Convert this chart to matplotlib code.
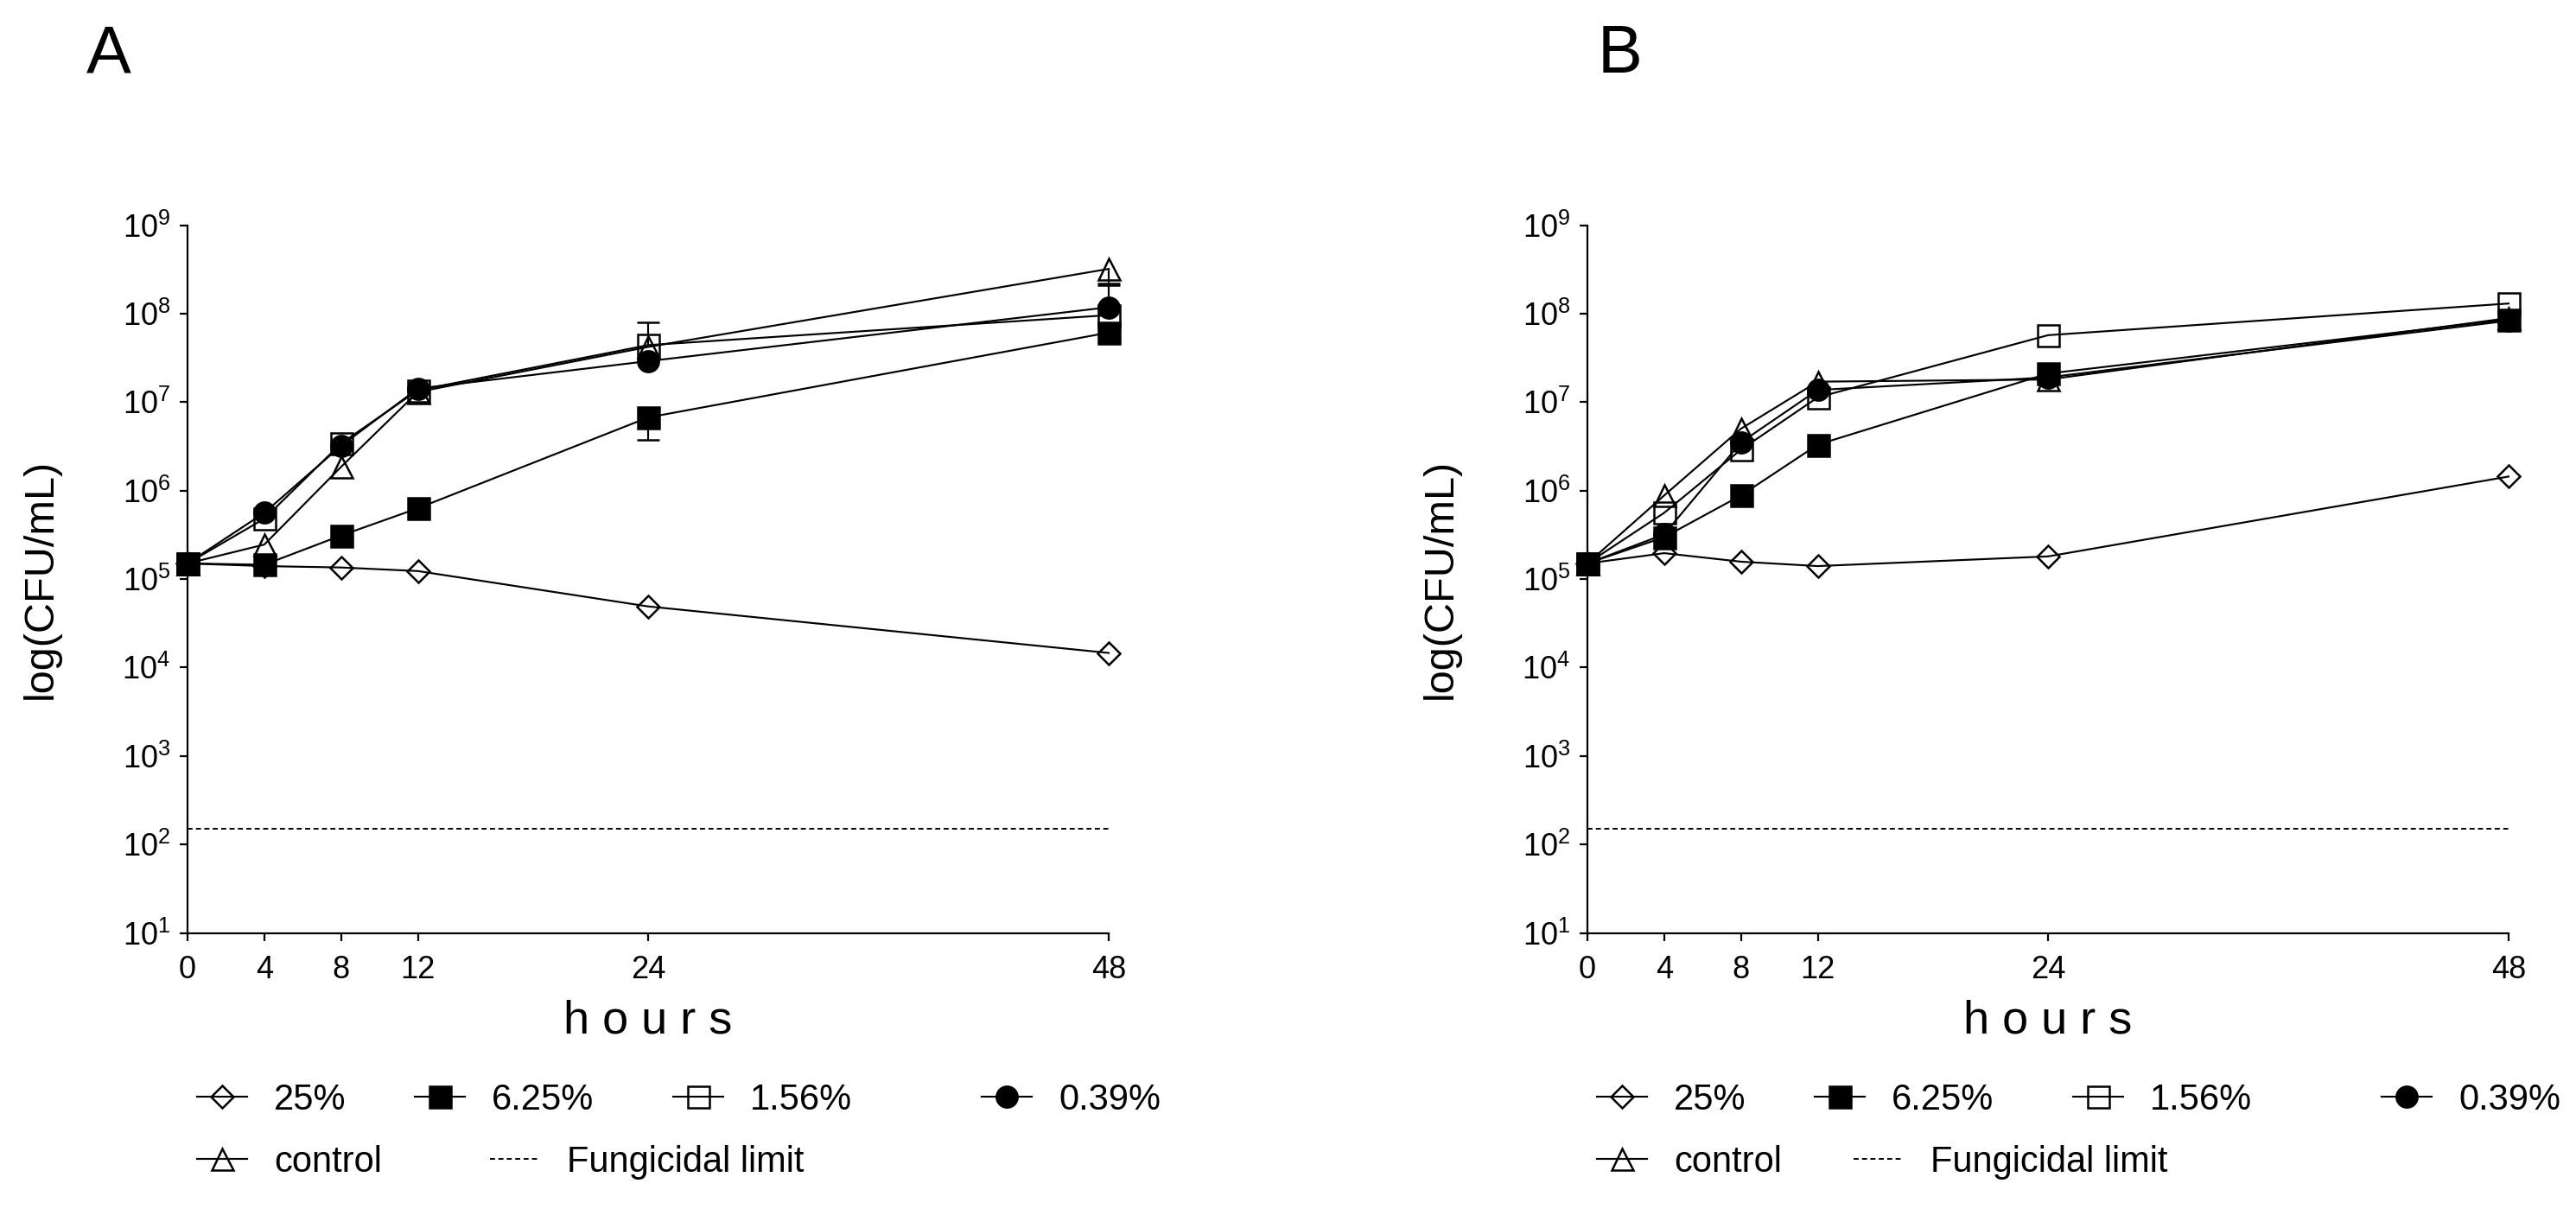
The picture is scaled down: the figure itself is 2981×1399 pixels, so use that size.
import matplotlib
matplotlib.use("Agg")
import matplotlib.pyplot as plt
import numpy as np
from matplotlib.ticker import LogFormatterMathtext, NullLocator, FixedLocator

plt.rcParams['font.family'] = ['Liberation Sans', 'DejaVu Sans']
plt.rcParams['mathtext.default'] = 'regular'

# ---------------- data ----------------
hours = [0, 4, 8, 12, 24, 48]
series_labels = ["25%", "6.25%", "1.56%", "0.39%", "control"]
limit_label = "Fungicidal limit"
fungicidal_limit = 1.5e2
y_ticks = [1e1, 1e2, 1e3, 1e4, 1e5, 1e6, 1e7, 1e8, 1e9]

# Panel A
A_25 = [1.5e5, 1.40e5, 1.35e5, 1.23e5, 4.9e4, 1.46e4]
A_625 = [1.5e5, 1.45e5, 3.1e5, 6.3e5, 6.7e6, 6.1e7]
A_156 = [1.5e5, 4.8e5, 3.4e6, 1.36e7, 4.4e7, 9.6e7]
A_039 = [1.5e5, 5.6e5, 3.2e6, 1.42e7, 2.9e7, 1.18e8]
A_ctrl = [1.5e5, 2.45e5, 1.85e6, 1.3e7, 4.2e7, 3.2e8]
# error bars (lower, upper) for panel A
A_err_lo = {"6.25%": [0, 0, 0, 0, 3.0e6, 0], "control": [0, 0, 0, 0, 0, 1.1e8]}
A_err_hi = {"1.56%": [0, 0, 0, 0, 3.5e7, 0], "0.39%": [0, 0, 0, 0, 0, 1.0e8]}

# Panel B
B_25 = [1.5e5, 1.96e5, 1.57e5, 1.40e5, 1.8e5, 1.44e6]
B_625 = [1.5e5, 2.97e5, 8.8e5, 3.3e6, 2.1e7, 8.6e7]
B_156 = [1.5e5, 5.6e5, 2.9e6, 1.13e7, 5.7e7, 1.3e8]
B_039 = [1.5e5, 3.2e5, 3.5e6, 1.37e7, 1.9e7, 8.3e7]
B_ctrl = [1.5e5, 8.8e5, 5.0e6, 1.7e7, 1.8e7, 8.9e7]
B_err_lo = {}
B_err_hi = {}

# ---------------- style ----------------
W, H = 2981, 1399
fig = plt.figure(figsize=(W / 100, H / 100), dpi=100)

styles = {
    "25%": dict(marker="D", ms=13.5, mfc="none"),
    "6.25%": dict(marker="s", ms=18, mfc="black"),
    "1.56%": dict(marker="s", ms=18, mfc="none"),
    "0.39%": dict(marker="o", ms=17.5, mfc="black"),
    "control": dict(marker="^", ms=18, mfc="none"),
}
draw_order = ["25%", "1.56%", "control", "0.39%", "6.25%"]
LW = 1.55
TICK_FS = 26
LEG_FS = 30


def px(x):
    return x / W


def py(y):
    return 1 - y / H


def panel(left_px, vals, err_lo, err_hi, title, title_x, fung_x):
    ax = fig.add_axes([px(left_px), py(1079.5), 1066 / W, (1079.5 - 260.5) / H])
    handles = {}
    for name in draw_order:
        st = styles[name]
        ln, = ax.plot(hours, vals[name], color="black", lw=LW, marker=st["marker"],
                      ms=st["ms"], mfc=st["mfc"], mec="black", mew=1.8,
                      clip_on=False, zorder=3)
        handles[name] = ln
        y = np.array(vals[name], dtype=float)
        t = np.array(hours, dtype=float)
        for errs, side in ((err_lo, "lo"), (err_hi, "hi")):
            if name in errs:
                e = np.array(errs[name], dtype=float)
                m = e > 0
                if side == "lo":
                    yerr = [e[m], np.zeros(m.sum())]
                else:
                    yerr = [np.zeros(m.sum()), e[m]]
                _, caps, _ = ax.errorbar(t[m], y[m], yerr=yerr, fmt="none",
                                         ecolor="black", elinewidth=LW,
                                         capsize=9.5, capthick=1.8,
                                         clip_on=False, zorder=2)
                for c in caps:
                    if np.allclose(c.get_ydata(), y[m]):
                        c.set_visible(False)
    lim, = ax.plot([hours[0], hours[-1]], [fungicidal_limit, fungicidal_limit],
                   color="black", lw=1.4, ls=(0, (3, 2)))
    ax.set_yscale("log")
    ax.set_ylim(y_ticks[0], y_ticks[-1])
    ax.set_xlim(hours[0], hours[-1])
    ax.yaxis.set_major_locator(FixedLocator(y_ticks))
    ax.yaxis.set_major_formatter(LogFormatterMathtext())
    ax.yaxis.set_minor_locator(NullLocator())
    ax.set_xticks(hours)
    ax.set_xticklabels([str(h) for h in hours])
    for s in ("top", "right"):
        ax.spines[s].set_visible(False)
    for s in ("left", "bottom"):
        ax.spines[s].set_linewidth(1.6)
    ax.tick_params(axis="both", direction="out", length=6.2, width=1.6,
                   labelsize=TICK_FS, colors="black")
    ax.tick_params(axis="y", pad=8)
    ax.tick_params(axis="x", pad=12)

    # axis labels
    fig.text(px(left_px - 169.5), py(670), "log(CFU/mL)", rotation=90,
             ha="center", va="center", fontsize=35)
    fig.text(px(left_px + 533), py(1195), "h o u r s", ha="center",
             va="baseline", fontsize=39)
    # panel letter
    fig.text(px(title_x), py(84), title, ha="left", va="baseline",
             fontsize=56)

    # legend entries
    hl = 58 / (LEG_FS * 100 / 72)
    tp = 31 / (LEG_FS * 100 / 72)
    entries = [("25%", 11, 1273), ("6.25%", 263, 1273), ("1.56%", 562, 1273),
               ("0.39%", 919, 1273), ("control", 11, 1345)]
    for name, dx, yy in entries:
        fig.legend([handles[name]], [name], loc="center left",
                   bbox_to_anchor=(px(left_px + dx), py(yy)),
                   bbox_transform=fig.transFigure, frameon=False,
                   borderpad=0, borderaxespad=0, handlelength=hl,
                   handletextpad=tp, fontsize=LEG_FS, numpoints=1)
    fig.legend([lim], [limit_label], loc="center left",
               bbox_to_anchor=(px(left_px + fung_x), py(1345)),
               bbox_transform=fig.transFigure, frameon=False,
               borderpad=0, borderaxespad=0, handlelength=hl,
               handletextpad=tp, fontsize=LEG_FS)
    return ax


valsA = {"25%": A_25, "6.25%": A_625, "1.56%": A_156, "0.39%": A_039, "control": A_ctrl}
valsB = {"25%": B_25, "6.25%": B_625, "1.56%": B_156, "0.39%": B_039, "control": B_ctrl}

panel(217, valsA, A_err_lo, A_err_hi, "A", 100, 350)
panel(1837, valsB, B_err_lo, B_err_hi, "B", 1849, 308)

fig.savefig("out.png", dpi=100)
